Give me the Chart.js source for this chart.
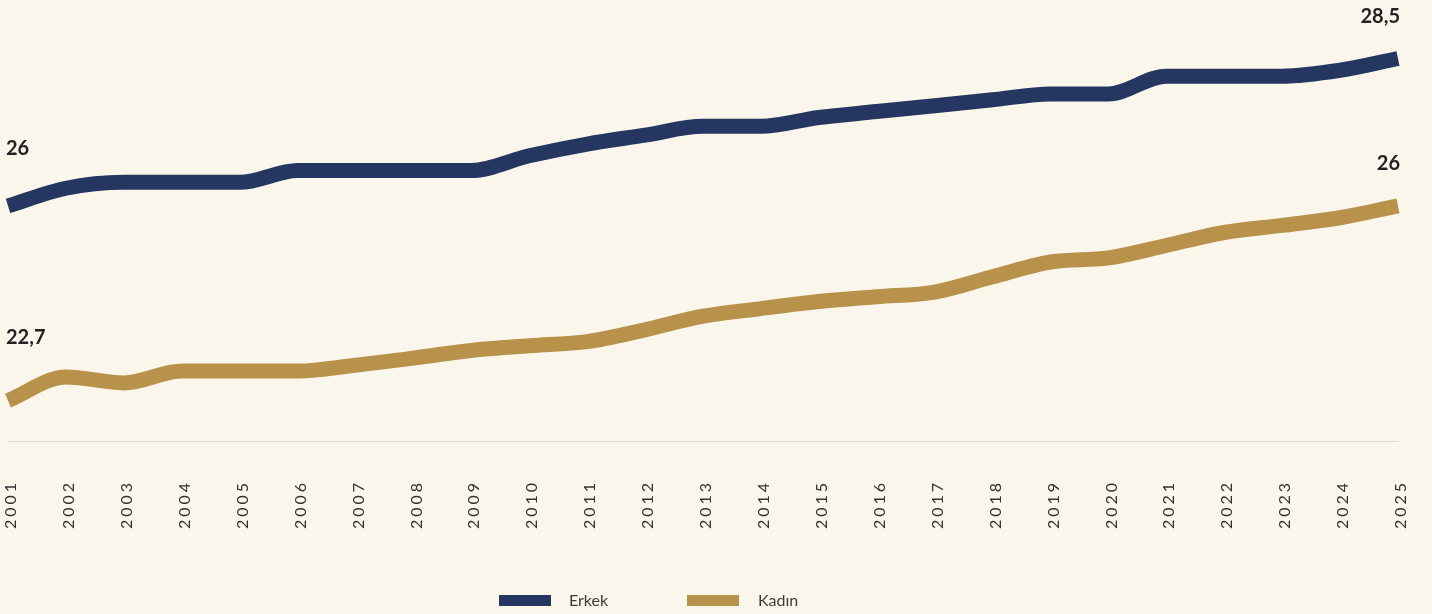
<!DOCTYPE html>
<html>
<head>
<meta charset="utf-8">
<script src="https://cdn.jsdelivr.net/npm/chart.js@4.4.1/dist/chart.umd.min.js"></script>
<style>
  html, body { margin: 0; padding: 0; background: #FAF6EC; }
  #wrap { position: relative; width: 1432px; height: 614px; }
  .lg-box { position: absolute; width: 52px; height: 11px; top: 595px; }
  .lg-text { position: absolute; top: 590px; font: 16px Lato, sans-serif; color: #3a3a3a; line-height: 20px; }
</style>
</head>
<body>
<div id="wrap">
  <canvas id="ageChart"></canvas>
  <div class="lg-box" style="left:499px;background:#253761"></div>
  <div class="lg-text" style="left:569px">Erkek</div>
  <div class="lg-box" style="left:687px;background:#B8924A"></div>
  <div class="lg-text" style="left:758px">Kadın</div>
</div>
<script>
// data
const years = ["2001", "2002", "2003", "2004", "2005", "2006", "2007", "2008", "2009", "2010",
  "2011", "2012", "2013", "2014", "2015", "2016", "2017", "2018", "2019", "2020",
  "2021", "2022", "2023", "2024", "2025"];
const erkek = [26.0, 26.3, 26.4, 26.4, 26.4, 26.6, 26.6, 26.6, 26.6, 26.85,
  27.05, 27.2, 27.35, 27.35, 27.5, 27.6, 27.7, 27.8, 27.9, 27.9,
  28.2, 28.2, 28.2, 28.3, 28.5];
const kadin = [22.7, 23.1, 23.0, 23.2, 23.2, 23.2, 23.3, 23.42, 23.55, 23.63,
  23.7, 23.9, 24.13, 24.26, 24.38, 24.46, 24.54, 24.8, 25.05, 25.12,
  25.33, 25.55, 25.67, 25.8, 26.0];

// first / last value labels
const endLabels = {
  id: "endLabels",
  afterDatasetsDraw(chart) {
    const ctx = chart.ctx;
    ctx.save();
    ctx.font = "bold 20px Lato, sans-serif";
    ctx.fillStyle = "#222222";
    ctx.textBaseline = "middle";
    const offsets = [[57, 42], [63, 42]];
    chart.data.datasets.forEach((ds, i) => {
      const pts = chart.getDatasetMeta(i).data;
      const first = pts[0], last = pts[pts.length - 1];
      const fmt = v => String(v).replace(".", ",");
      ctx.textAlign = "left";
      ctx.fillText(fmt(ds.data[0]), first.x - 2, first.y - offsets[i][0]);
      ctx.textAlign = "right";
      ctx.fillText(fmt(ds.data[ds.data.length - 1]), last.x + 2, last.y - offsets[i][1]);
    });
    ctx.restore();
    // spaced tick labels for the x axis (drawn after datasets, ticks.z = 1)
    ctx.letterSpacing = "3px";
  },
  afterDraw(chart) {
    chart.ctx.letterSpacing = "0px";
  }
};

const ctx = document.getElementById("ageChart");
new Chart(ctx, {
  type: "line",
  data: {
    labels: years,
    datasets: [
      {
        label: "Erkek",
        data: erkek,
        borderColor: "#253761",
        borderWidth: 15,
        borderCapStyle: "butt",
        pointRadius: 0,
        cubicInterpolationMode: "monotone",
      },
      {
        label: "Kadın",
        data: kadin,
        borderColor: "#B8924A",
        borderWidth: 15,
        borderCapStyle: "butt",
        pointRadius: 0,
        cubicInterpolationMode: "monotone",
      }
    ]
  },
  options: {
    responsive: true,
    maintainAspectRatio: false,
    animation: false,
    layout: { padding: { top: 29, left: 8, right: 34, bottom: 59 } },
    plugins: {
      legend: { display: false },
      tooltip: { enabled: false }
    },
    scales: {
      x: {
        offset: false,
        afterFit(scale) {
          scale.paddingLeft = 0;
          scale.paddingRight = 0;
        },
        grid: { display: false, drawTicks: false },
        border: { display: true, color: "#d8d8d4", width: 1 },
        ticks: {
          z: 1,
          minRotation: 90,
          maxRotation: 90,
          autoSkip: false,
          padding: 38,
          labelOffset: 3,
          color: "#333333",
          font: { family: "Lato", size: 16 }
        }
      },
      y: {
        display: false,
        min: 22,
        max: 29
      }
    }
  },
  plugins: [endLabels]
});
</script>
</body>
</html>
